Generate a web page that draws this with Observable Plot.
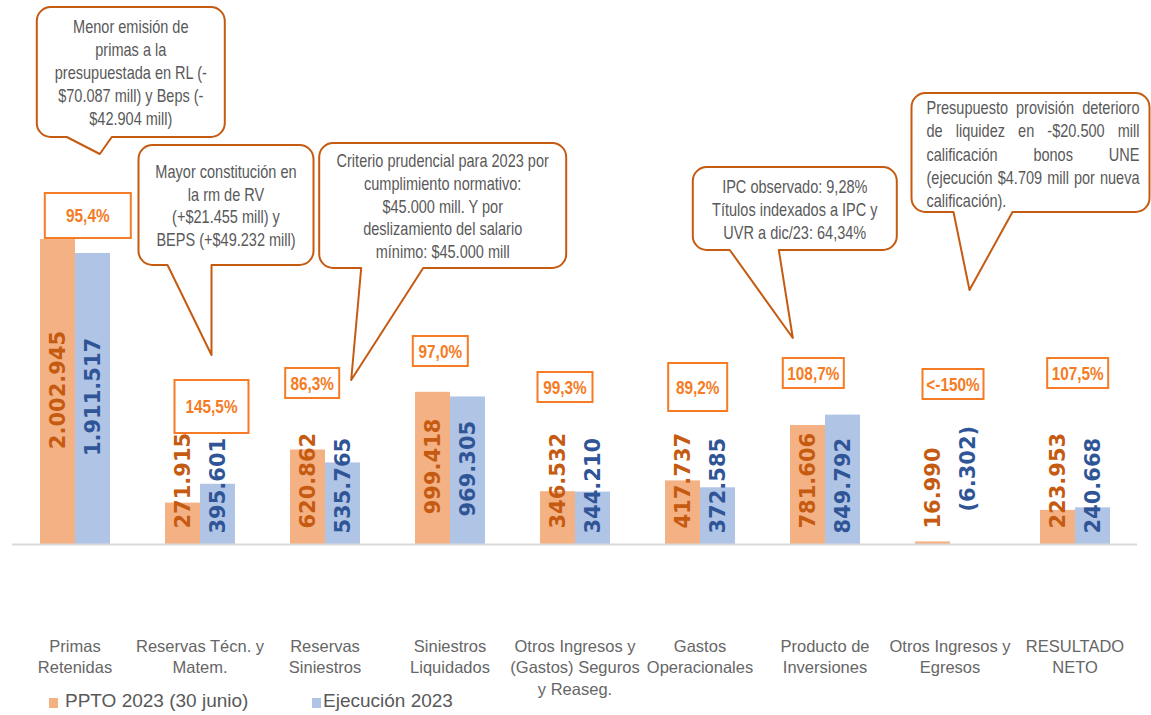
<!DOCTYPE html>
<html>
<head>
<meta charset="utf-8">
<script src="https://cdn.jsdelivr.net/npm/d3@7"></script>
<script src="https://cdn.jsdelivr.net/npm/@observablehq/plot@0.6"></script>
<style>
  body { margin: 0; background: #fff; }
  #wrap { position: relative; width: 1151px; height: 715px; overflow: hidden; background: #fff; }
  .sw { position: absolute; width: 9px; height: 10px; }
  .lt { position: absolute; font: 19px "Liberation Sans", Arial, sans-serif; color: #595959; line-height: 22px; white-space: nowrap; }
</style>
</head>
<body>
<div id="wrap"></div>
<script>
// ---------- DATA ----------
const categories = [
  "Primas Retenidas", "Reservas Técn. y Matem.", "Reservas Siniestros", "Siniestros Liquidados",
  "Otros Ingresos y (Gastos) Seguros y Reaseg.", "Gastos Operacionales", "Producto de Inversiones",
  "Otros Ingresos y Egresos", "RESULTADO NETO"
];
const categoryLabels = [
  "Primas\nRetenidas", "Reservas Técn. y\nMatem.", "Reservas\nSiniestros", "Siniestros\nLiquidados",
  "Otros Ingresos y\n(Gastos) Seguros\ny Reaseg.", "Gastos\nOperacionales", "Producto de\nInversiones",
  "Otros Ingresos y\nEgresos", "RESULTADO\nNETO"
];
const series = ["PPTO 2023 (30 junio)", "Ejecución 2023"];
const ppto      = [2002945, 271915, 620862, 999418, 346532, 417737, 781606, 16990, 223953];
const ejecucion = [1911517, 395601, 535765, 969305, 344210, 372585, 849792, -6302, 240668];
const cumplimiento = ["95,4%", "145,5%", "86,3%", "97,0%", "99,3%", "89,2%", "108,7%", "<-150%", "107,5%"];

const calloutTexts = [
  { cat: "Primas Retenidas", lines: ["Menor emisión de", "primas a la", "presupuestada en RL (-", "$70.087 mill) y Beps (-", "$42.904 mill)"] },
  { cat: "Reservas Técn. y Matem.", lines: ["Mayor constitución en", "la rm de RV", "(+$21.455 mill) y", "BEPS (+$49.232 mill)"] },
  { cat: "Reservas Siniestros", lines: ["Criterio prudencial para 2023 por", "cumplimiento normativo:", "$45.000 mill. Y por", "deslizamiento del salario", "mínimo: $45.000 mill"] },
  { cat: "Producto de Inversiones", lines: ["IPC observado: 9,28%", "Títulos indexados a IPC y", "UVR a dic/23: 64,34%"] },
  { cat: "Otros Ingresos y Egresos", lines: ["Presupuesto provisión deterioro", "de liquidez en -$20.500 mill", "calificación bonos UNE", "(ejecución $4.709 mill por nueva", "calificación)."], justify: true }
];

// ---------- LAYOUT (pixels, relative to category centre) ----------
const pctLayout = [
  { dx: -29.7, w: 86, top: 193, h: 45 },
  { dx: -25,   w: 74, top: 380, h: 53 },
  { dx: -39.3, w: 54, top: 368, h: 30 },
  { dx: -36.7, w: 55, top: 336, h: 30 },
  { dx: -37,   w: 55, top: 372, h: 30 },
  { dx: -31.3, w: 59, top: 363, h: 48 },
  { dx: -41.7, w: 61, top: 358, h: 30 },
  { dx: -27,   w: 61, top: 369, h: 30 },
  { dx: -27.3, w: 61, top: 358, h: 30 }
];
const calloutLayout = [
  { dx: -37.7, w: 188, top: 7,   h: 130, bl: -7.7,  br: 37.3,  tx: 25.3,  ty: 154, first: 26, lh: 23 },
  { dx: -61,   w: 175, top: 145, h: 120, bl: -32,   br: 12,    tx: 12,    ty: 355, first: 33, lh: 22.5 },
  { dx: -5.3,  w: 247, top: 143, h: 125, bl: 36.7,  br: 98.7,  tx: 26.7,  ty: 380, first: 24, lh: 22.8 },
  { dx: -131.7,w: 204, top: 167, h: 83,  bl: -94.7, br: -45.7, tx: -31.7, ty: 338, first: 26, lh: 23 },
  { dx: -38,   w: 238, top: 93,  h: 119, bl: 4,     br: 63,    tx: 20,    ty: 290, first: 21, lh: 23.3 }
];

const rows = categories.flatMap((c, i) => [
  { cat: c, serie: series[0], value: ppto[i] },
  { cat: c, serie: series[1], value: ejecucion[i] }
]);
const fmt = v => { const s = d3.format(",")(Math.abs(v)).replace(/,/g, "."); return v < 0 ? `(${s})` : s; };
const labelColor = { [series[0]]: "#C55A11", [series[1]]: "#2F5597" };
const big = d => d.value > 900000;

const valueFont = { fontFamily: "DejaVu Sans, sans-serif", fontWeight: "bold", fontSize: 21, rotate: -90 };
const labelMarks = series.flatMap((s, k) => [
  Plot.text(rows.filter(d => d.serie === s && big(d)), {
    fx: "cat", x: "serie", y: d => d.value / 2, text: d => fmt(d.value),
    fill: labelColor[s], textAnchor: "middle", dy: -2, ...valueFont
  }),
  Plot.text(rows.filter(d => d.serie === s && !big(d) && d.value >= 0), {
    fx: "cat", x: "serie", y: 0, text: d => fmt(d.value),
    fill: labelColor[s], textAnchor: "start", dy: k === 0 ? -16 : -11, ...valueFont
  }),
  Plot.text(rows.filter(d => d.serie === s && d.value < 0), {
    fx: "cat", x: "serie", y: 0, text: d => fmt(d.value),
    fill: labelColor[s], textAnchor: "start", dy: -33, ...valueFont
  })
]);

const plot = Plot.plot({
  width: 1151,
  height: 690,
  marginTop: 0,
  marginBottom: 146,
  marginLeft: 10,
  marginRight: 13,
  style: { background: "transparent", fontFamily: "Liberation Sans, Arial, sans-serif", overflow: "visible" },
  fx: { domain: categories, padding: 0, label: null, axis: null },
  x: { domain: series, axis: null, paddingInner: 0, paddingOuter: 0.765 },
  y: { domain: [0, 3573000], axis: null },
  color: { domain: series, range: ["#F4B183", "#B0C4E6"] },
  marks: [
    Plot.barY(rows, { fx: "cat", x: "serie", y: "value", fill: "serie" }),
    Plot.ruleY([0], { stroke: "#D9D9D9", strokeWidth: 2 }),
    ...labelMarks,
    Plot.text(categories, {
      fx: d => d, frameAnchor: "bottom", text: d => categoryLabels[categories.indexOf(d)],
      lineAnchor: "top", dy: 92, fontSize: 16.5, lineHeight: 1.3, fill: "#666666", textAnchor: "middle"
    })
  ]
});

const wrap = document.getElementById("wrap");
wrap.appendChild(plot);

// ---------- ANNOTATIONS (positioned with the plot's fx scale) ----------
const svg = d3.select(plot);
const fxs = plot.scale("fx");
const cx = c => fxs.apply(c) + fxs.bandwidth / 2;
const SX = 0.83; // horizontal condensing of annotation text
const FONT = "'Liberation Sans', Arial, sans-serif";

function addText(g, x, y, str, anchor, size, fill, weight) {
  return g.append("text")
    .attr("transform", `translate(${x},${y}) scale(${SX},1)`)
    .attr("text-anchor", anchor).attr("fill", fill)
    .attr("font-family", FONT).attr("font-size", size).attr("font-weight", weight || "normal")
    .text(str);
}

const gp = svg.append("g");
categories.forEach((c, i) => {
  const L = pctLayout[i];
  const x0 = cx(c) + L.dx;
  gp.append("rect").attr("x", x0).attr("y", L.top).attr("width", L.w).attr("height", L.h)
    .attr("fill", "#fff").attr("stroke", "#F57C24").attr("stroke-width", 2);
  addText(gp, x0 + L.w / 2, L.top + L.h / 2 + 6.5, cumplimiento[i], "middle", 18.5, "#F57C24", "bold");
});

const gc = svg.append("g");
calloutTexts.forEach((c, i) => {
  const L = calloutLayout[i];
  const m = cx(c.cat);
  const x0 = m + L.dx, x1 = x0 + L.w, y0 = L.top, y1 = L.top + L.h, r = 14;
  const bl = m + L.bl, br = m + L.br, tx = m + L.tx;
  const p = `M${x0 + r},${y0} H${x1 - r} A${r},${r} 0 0 1 ${x1},${y0 + r} V${y1 - r} A${r},${r} 0 0 1 ${x1 - r},${y1}
    H${br} L${tx},${L.ty} L${bl},${y1} H${x0 + r} A${r},${r} 0 0 1 ${x0},${y1 - r} V${y0 + r} A${r},${r} 0 0 1 ${x0 + r},${y0} Z`;
  gc.append("path").attr("d", p).attr("fill", "#fff").attr("stroke", "#C55A11").attr("stroke-width", 2).attr("stroke-linejoin", "round");
  c.lines.forEach((line, j) => {
    const y = y0 + L.first + j * L.lh;
    if (!c.justify) {
      addText(gc, (x0 + x1) / 2, y, line, "middle", 17.5, "#595959");
    } else {
      const left = x0 + 15, right = x1 - 10;
      const words = line.split(" ");
      if (j === c.lines.length - 1 || words.length === 1) {
        addText(gc, left, y, line, "start", 17.5, "#595959");
      } else {
        const nodes = words.map(w => addText(gc, 0, y, w, "start", 17.5, "#595959"));
        const widths = nodes.map(n => n.node().getComputedTextLength() * SX);
        const gap = (right - left - d3.sum(widths)) / (words.length - 1);
        let x = left;
        nodes.forEach((n, k) => { n.attr("transform", `translate(${x},${y}) scale(${SX},1)`); x += widths[k] + gap; });
      }
    }
  });
});

// ---------- LEGEND (below the chart) ----------
const legend = [
  { name: series[0], color: "#F4B183", sx: 49, tx: 65 },
  { name: series[1], color: "#B0C4E6", sx: 312, tx: 323 }
];
legend.forEach(l => {
  const s = document.createElement("div");
  s.className = "sw"; s.style.left = l.sx + "px"; s.style.top = "698px"; s.style.background = l.color;
  const t = document.createElement("div");
  t.className = "lt"; t.style.left = l.tx + "px"; t.style.top = "690px"; t.textContent = l.name;
  wrap.appendChild(s); wrap.appendChild(t);
});
</script>
</body>
</html>
